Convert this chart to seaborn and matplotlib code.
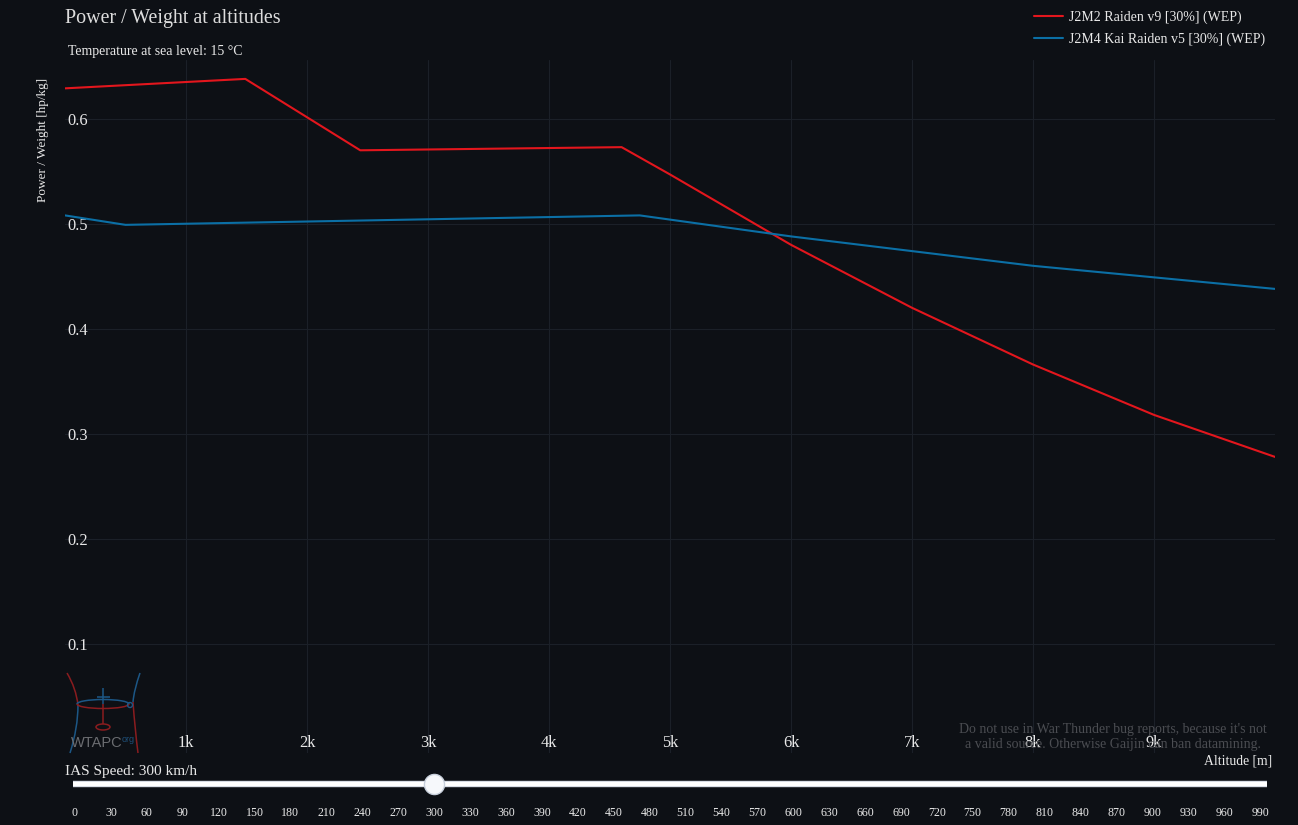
import pandas as pd
import matplotlib.pyplot as plt
import seaborn as sns
from matplotlib.path import Path
from matplotlib.patches import PathPatch, Ellipse, Arc

# altitude [m] / power-to-weight [hp/kg]
alt_j2m2 = [0, 1490, 2440, 4600, 5000, 6000, 7000, 8000, 9000, 10000]
pw_j2m2 = [0.629, 0.638, 0.570, 0.573, 0.547, 0.480, 0.420, 0.366, 0.318, 0.278]

alt_j2m4 = [0, 500, 4750, 5000, 6000, 7000, 8000, 9000, 10000]
pw_j2m4 = [0.508, 0.499, 0.508, 0.504, 0.488, 0.474, 0.460, 0.449, 0.438]

names = ['J2M2 Raiden v9 [30%] (WEP)', 'J2M4 Kai Raiden v5 [30%] (WEP)']
colors = ['#e3161d', '#0b6fa5']

alt_ticks = [1000, 2000, 3000, 4000, 5000, 6000, 7000, 8000, 9000]
alt_labels = ['1k', '2k', '3k', '4k', '5k', '6k', '7k', '8k', '9k']
pw_ticks = [0.1, 0.2, 0.3, 0.4, 0.5, 0.6]

speed_steps = list(range(0, 991, 30))
ias_speed = 300

BG = '#0d1015'
GRID = '#1b2028'
TXT = '#e8e8e8'

sns.set_theme(style='dark', rc={'axes.facecolor': BG, 'figure.facecolor': BG,
                                'savefig.facecolor': BG, 'grid.color': GRID,
                                'text.color': TXT, 'axes.labelcolor': TXT,
                                'xtick.color': TXT, 'ytick.color': TXT})
plt.rcParams['font.family'] = ['Liberation Serif', 'DejaVu Serif']

df = pd.concat([
    pd.DataFrame({'altitude': alt_j2m2, 'pw': pw_j2m2, 'aircraft': names[0]}),
    pd.DataFrame({'altitude': alt_j2m4, 'pw': pw_j2m4, 'aircraft': names[1]}),
])

W, H = 1298, 825
fig = plt.figure(figsize=(W / 100, H / 100), dpi=100)


def px(x0, y0, x1, y1):
    # pixel box (top-left origin) -> figure fraction rect
    return [x0 / W, 1 - y1 / H, (x1 - x0) / W, (y1 - y0) / H]


def fp(x, y):
    return (x / W, 1 - y / H)


ax = fig.add_axes(px(65, 60, 1275, 753))
sns.lineplot(data=df, x='altitude', y='pw', hue='aircraft',
             palette=dict(zip(names, colors)), linewidth=1.5, ax=ax)

ax.set_xlim(0, 10000)
ax.set_ylim(-0.004, 0.656)
ax.set_xticks(alt_ticks)
ax.set_xticklabels(alt_labels)
ax.set_yticks(pw_ticks)
ax.grid(True, color=GRID, linewidth=0.8)
for s in ax.spines.values():
    s.set_visible(False)

ax.tick_params(axis='x', direction='in', length=4, width=0.8, color='#3a3f47',
               pad=-13, labelsize=11.8)
ax.tick_params(axis='y', direction='out', length=3.6, width=0.8, color='#8a8a8a',
               pad=-5.0, labelsize=11.8)
for lab in ax.get_yticklabels():
    lab.set_horizontalalignment('left')

ax.set_xlabel('')
ax.set_ylabel('Power / Weight [hp/kg]', fontsize=9.5)
ax.yaxis.set_label_coords(-0.0135, 0.885)

leg = ax.legend(loc='upper left', bbox_to_anchor=(1034 / W, 1 - 11 / H),
                bbox_transform=fig.transFigure, frameon=False, fontsize=10,
                handlelength=2.1, handletextpad=0.45, labelspacing=0.55,
                borderpad=0, borderaxespad=0)
for t in leg.get_texts():
    t.set_color(TXT)

fig.text(*fp(65, 19), 'Power / Weight at altitudes', fontsize=14.4,
         color='#dddddd', ha='left', va='center')
fig.text(*fp(68, 52), 'Temperature at sea level: 15 °C', fontsize=10,
         color=TXT, ha='left', va='center')
fig.text(*fp(1272, 761), 'Altitude [m]', fontsize=9.8, color=TXT,
         ha='right', va='center')
fig.text(*fp(1113, 737),
         "Do not use in War Thunder bug reports, because it's not\n"
         "a valid source. Otherwise Gaijin can ban datamining.",
         fontsize=10, color='#4b4d52', ha='center', va='center',
         linespacing=1.25)

# logo
LR, LB = '#8a1c1f', '#1c5786'


def curve(p0, c, p1, col):
    verts = [fp(*p0), fp(*c), fp(*p1)]
    fig.add_artist(PathPatch(Path(verts, [Path.MOVETO, Path.CURVE3, Path.CURVE3]),
                             transform=fig.transFigure, fill=False, edgecolor=col,
                             linewidth=1.1))


curve((67, 673), (76, 688), (78, 705), LR)
curve((78, 705), (78, 728), (70, 753), LB)
curve((140, 673), (134, 690), (133, 702), LB)
curve((133, 702), (135, 730), (138, 753), LR)
curve((103, 704), (103, 714), (103, 724), LR)
curve((103, 688), (103, 696), (103, 704), LB)
curve((97, 697), (103, 697), (110, 697), LB)
ew, eh = 52 / W, 9 / H
fig.add_artist(Arc(fp(103, 704), ew, eh, theta1=0, theta2=180, color=LB,
                   linewidth=1.1, transform=fig.transFigure))
fig.add_artist(Arc(fp(103, 704), ew, eh, theta1=180, theta2=360, color=LR,
                   linewidth=1.1, transform=fig.transFigure))
fig.add_artist(Ellipse(fp(103, 727), 14 / W, 6 / H, fill=False, edgecolor=LR,
                       linewidth=1.1, transform=fig.transFigure))
fig.add_artist(Ellipse(fp(130, 705), 5 / W, 5 / H, fill=False, edgecolor=LB,
                       linewidth=1.0, transform=fig.transFigure))
fig.text(*fp(71, 743), 'WTAPC', fontsize=10.5, color='#6a6c70',
         family='Liberation Sans', ha='left', va='center')
fig.text(*fp(122, 739), 'org', fontsize=6.5, color='#1e4f78',
         family='Liberation Sans', ha='left', va='center')

# speed slider
fig.text(*fp(65, 771), f'IAS Speed: {ias_speed} km/h', fontsize=11,
         color=TXT, ha='left', va='center')
sax = fig.add_axes(px(73, 776, 1267, 792))
sax.set_facecolor(BG)
lo = -2 / 1.197
hi = 990 + 7 / 1.197
sax.set_xlim(lo, hi)
sax.set_ylim(-1, 1)
sax.axhline(0, color='#d5dbe4', linewidth=4.6, solid_capstyle='butt')
sax.axhline(0, color='white', linewidth=3.0, solid_capstyle='butt')
sax.scatter([ias_speed], [0], s=210, color='#f6f8fb', edgecolor='#c8d0dc',
            linewidth=1, zorder=5, clip_on=False)
sax.set_xticks(speed_steps)
sax.set_xticklabels([str(v) for v in speed_steps])
sax.set_yticks([])
sax.tick_params(axis='x', length=0, pad=11, labelsize=8.6, colors=TXT)
sax.grid(False)
for s in sax.spines.values():
    s.set_visible(False)

fig.savefig('out.png', dpi=100, facecolor=BG)
